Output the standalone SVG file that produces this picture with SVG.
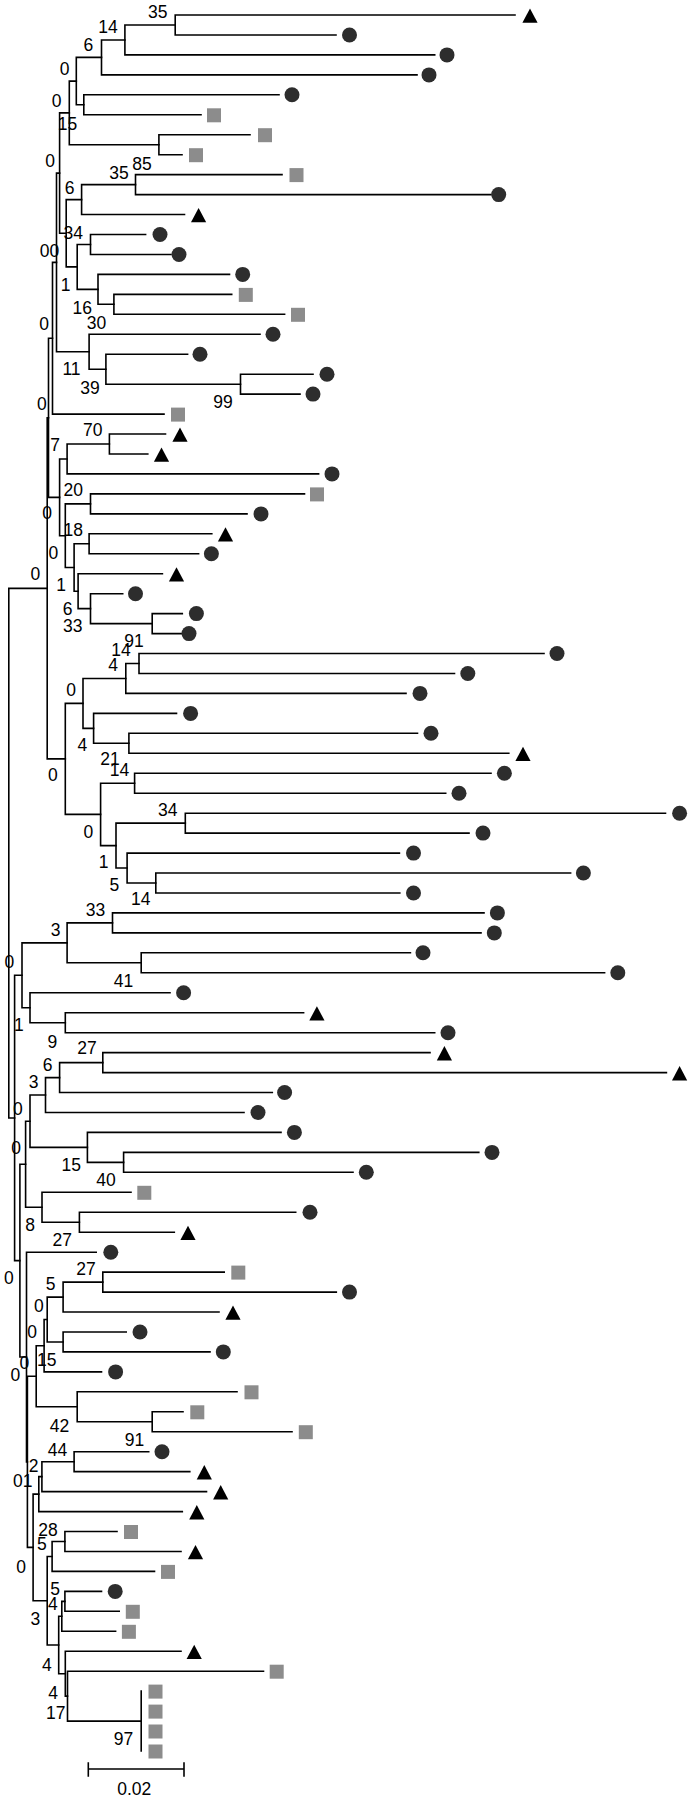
<svg xmlns="http://www.w3.org/2000/svg" width="692" height="1800" viewBox="0 0 692 1800">
<style>
.br{fill:none;stroke:#000;stroke-width:1.6;stroke-linecap:square}
.lbl{font-family:"Liberation Sans",Arial,sans-serif;font-size:17.5px;fill:#000;text-anchor:middle}
</style>
<defs>
<circle id="cir" cx="0" cy="0" r="7.5" fill="#2d2d2d"/>
<rect id="sq" x="-7" y="-6.5" width="14" height="14" fill="#8c8c8c"/>
<path id="tri" d="M0 -6.5 L7.6 7.8 L-7.6 7.8 Z" fill="#000"/>
</defs>
<rect x="0" y="0" width="692" height="1800" fill="#fff"/>
<g id="connectors" class="br">
<path d="M515 15 H175.2 V35 H336"/>
<path d="M175.2 25 H124.9 V54.9 H434.7"/>
<path d="M124.9 40 H101.5 V74.9 H417"/>
<path d="M279 94.8 H83.8 V114.8 H201"/>
<path d="M101.5 57.4 H76.3 V104.8 H83.8"/>
<path d="M250 134.7 H158.9 V154.7 H182"/>
<path d="M76.3 81.1 H69.3 V144.7 H158.9"/>
<path d="M282 174.6 H135.5 V194.6 H491"/>
<path d="M135.5 184.6 H81.6 V214.5 H184.5"/>
<path d="M145.6 234.5 H90.5 V254.5 H171"/>
<path d="M231.7 294.4 H113.9 V314.3 H284.6"/>
<path d="M229.5 274.4 H98 V304.3 H113.9"/>
<path d="M90.5 244.5 H77.2 V289.4 H98"/>
<path d="M81.6 199.6 H66.2 V266.9 H77.2"/>
<path d="M69.3 112.9 H59.6 V233.3 H66.2"/>
<path d="M313 374.2 H240.5 V394.1 H300"/>
<path d="M187.6 354.2 H105.9 V384.2 H240.5"/>
<path d="M260 334.3 H89.1 V369.2 H105.9"/>
<path d="M59.6 173.1 H56.5 V351.7 H89.1"/>
<path d="M56.5 262.4 H52.5 V414.1 H164"/>
<path d="M165.5 434 H109.4 V454 H147.8"/>
<path d="M109.4 444 H67.1 V473.9 H318.6"/>
<path d="M304.5 493.9 H90.5 V513.9 H247"/>
<path d="M211.8 533.8 H89.1 V553.8 H198.6"/>
<path d="M182.3 613.6 H152.2 V633.6 H182.3"/>
<path d="M122.7 593.7 H90.5 V623.6 H152.2"/>
<path d="M162.4 573.7 H78.1 V608.6 H90.5"/>
<path d="M89.1 543.8 H74.1 V591.2 H78.1"/>
<path d="M90.5 503.9 H65.3 V567.5 H74.1"/>
<path d="M67.1 459 H59.6 V535.7 H65.3"/>
<path d="M52.5 338.2 H48.5 V497.4 H59.6"/>
<path d="M544 653.5 H139 V673.5 H454.5"/>
<path d="M139 663.5 H125.8 V693.4 H406"/>
<path d="M417.5 733.3 H128.9 V753.3 H508.8"/>
<path d="M176.5 713.4 H93.6 V743.3 H128.9"/>
<path d="M125.8 678.5 H83 V728.4 H93.6"/>
<path d="M491 773.3 H134.6 V793.2 H445.7"/>
<path d="M665.5 813.2 H185.3 V833.1 H469"/>
<path d="M570.6 873 H155.8 V893 H399.8"/>
<path d="M399.4 853.1 H127.1 V883 H155.8"/>
<path d="M185.3 823.1 H116 V868 H127.1"/>
<path d="M134.6 783.2 H100.6 V845.6 H116"/>
<path d="M83 703.4 H65.3 V814.4 H100.6"/>
<path d="M48.5 417.8 H47.2 V758.9 H65.3"/>
<path d="M47.2 588.4 H8.8 V1118 H14.6"/>
<path d="M484 912.9 H112.5 V932.9 H481"/>
<path d="M410.4 952.8 H141.2 V972.8 H604.6"/>
<path d="M112.5 922.9 H67.1 V962.8 H141.2"/>
<path d="M303.6 1012.7 H65.3 V1032.7 H434.7"/>
<path d="M170 992.7 H30 V1022.7 H65.3"/>
<path d="M67.1 942.9 H22 V1007.7 H30"/>
<path d="M430 1052.6 H102.8 V1072.6 H666.4"/>
<path d="M102.8 1062.6 H59.6 V1092.5 H272.3"/>
<path d="M59.6 1077.6 H45.5 V1112.5 H244"/>
<path d="M478.8 1152.4 H123.6 V1172.3 H353"/>
<path d="M281 1132.4 H87.4 V1162.4 H123.6"/>
<path d="M45.5 1095 H30 V1147.4 H87.4"/>
<path d="M295.7 1212.2 H79.4 V1232.2 H174.3"/>
<path d="M131 1192.3 H42 V1222.2 H79.4"/>
<path d="M30 1121.2 H25.6 V1207.3 H42"/>
<path d="M224.2 1272.1 H102.8 V1292.1 H336.3"/>
<path d="M102.8 1282.1 H63.1 V1312 H219"/>
<path d="M126.2 1332 H63.1 V1351.9 H210"/>
<path d="M63.1 1297.1 H47.2 V1342 H63.1"/>
<path d="M47.2 1319.5 H44.1 V1371.9 H101.5"/>
<path d="M183 1411.8 H152.2 V1431.7 H292"/>
<path d="M237 1391.8 H77.2 V1421.8 H152.2"/>
<path d="M44.1 1345.7 H36.2 V1406.8 H77.2"/>
<path d="M148.7 1451.7 H74.1 V1471.6 H189.8"/>
<path d="M74.1 1461.7 H41.9 V1491.6 H206.5"/>
<path d="M41.9 1476.6 H38.8 V1511.6 H182.3"/>
<path d="M117 1531.5 H64.9 V1551.5 H181"/>
<path d="M64.9 1541.5 H52.1 V1571.4 H154.5"/>
<path d="M101.5 1591.4 H64.9 V1611.3 H119.2"/>
<path d="M64.9 1601.4 H61.8 V1631.3 H115.6"/>
<path d="M141.2 1691.1 V1751"/>
<path d="M263.5 1671.2 H67.5 V1721.1 H141.2"/>
<path d="M181 1651.2 H65.3 V1696.1 H67.5"/>
<path d="M61.8 1616.3 H58.7 V1673.7 H65.3"/>
<path d="M52.1 1556.5 H47.2 V1645 H58.7"/>
<path d="M38.8 1494.1 H33.1 V1600.8 H47.2"/>
<path d="M36.2 1376.3 H27.4 V1547.4 H33.1"/>
<path d="M96.2 1252.2 H26.5 V1461.9 H27.4"/>
<path d="M25.6 1164.2 H19.9 V1357 H26.5"/>
<path d="M22 975.3 H14.6 V1260.6 H19.9"/>
</g>
<g id="tips">
<g id="t1"><use href="#tri" x="530" y="15"/></g>
<g id="t2"><use href="#cir" x="349.5" y="35"/></g>
<g id="t3"><use href="#cir" x="447" y="54.9"/></g>
<g id="t4"><use href="#cir" x="429" y="74.9"/></g>
<g id="t5"><use href="#cir" x="292" y="94.8"/></g>
<g id="t6"><use href="#sq" x="214" y="114.8"/></g>
<g id="t7"><use href="#sq" x="265" y="134.7"/></g>
<g id="t8"><use href="#sq" x="196" y="154.7"/></g>
<g id="t9"><use href="#sq" x="296.5" y="174.6"/></g>
<g id="t10"><use href="#cir" x="498.7" y="194.6"/></g>
<g id="t11"><use href="#tri" x="198.6" y="214.5"/></g>
<g id="t12"><use href="#cir" x="160" y="234.5"/></g>
<g id="t13"><use href="#cir" x="179" y="254.5"/></g>
<g id="t14"><use href="#cir" x="242.7" y="274.4"/></g>
<g id="t15"><use href="#sq" x="245.8" y="294.4"/></g>
<g id="t16"><use href="#sq" x="298" y="314.3"/></g>
<g id="t17"><use href="#cir" x="273" y="334.3"/></g>
<g id="t18"><use href="#cir" x="200" y="354.2"/></g>
<g id="t19"><use href="#cir" x="327" y="374.2"/></g>
<g id="t20"><use href="#cir" x="313" y="394.1"/></g>
<g id="t21"><use href="#sq" x="178" y="414.1"/></g>
<g id="t22"><use href="#tri" x="180" y="434"/></g>
<g id="t23"><use href="#tri" x="161.5" y="454"/></g>
<g id="t24"><use href="#cir" x="332" y="473.9"/></g>
<g id="t25"><use href="#sq" x="317" y="493.9"/></g>
<g id="t26"><use href="#cir" x="261" y="513.9"/></g>
<g id="t27"><use href="#tri" x="225.5" y="533.8"/></g>
<g id="t28"><use href="#cir" x="211.4" y="553.8"/></g>
<g id="t29"><use href="#tri" x="176.5" y="573.7"/></g>
<g id="t30"><use href="#cir" x="135.5" y="593.7"/></g>
<g id="t31"><use href="#cir" x="196.4" y="613.6"/></g>
<g id="t32"><use href="#cir" x="189" y="633.6"/></g>
<g id="t33"><use href="#cir" x="557" y="653.5"/></g>
<g id="t34"><use href="#cir" x="467.8" y="673.5"/></g>
<g id="t35"><use href="#cir" x="420" y="693.4"/></g>
<g id="t36"><use href="#cir" x="190.6" y="713.4"/></g>
<g id="t37"><use href="#cir" x="431" y="733.3"/></g>
<g id="t38"><use href="#tri" x="523" y="753.3"/></g>
<g id="t39"><use href="#cir" x="504.4" y="773.3"/></g>
<g id="t40"><use href="#cir" x="459" y="793.2"/></g>
<g id="t41"><use href="#cir" x="679.6" y="813.2"/></g>
<g id="t42"><use href="#cir" x="483" y="833.1"/></g>
<g id="t43"><use href="#cir" x="413.5" y="853.1"/></g>
<g id="t44"><use href="#cir" x="583.4" y="873"/></g>
<g id="t45"><use href="#cir" x="413.5" y="893"/></g>
<g id="t46"><use href="#cir" x="497.4" y="912.9"/></g>
<g id="t47"><use href="#cir" x="494.3" y="932.9"/></g>
<g id="t48"><use href="#cir" x="423" y="952.8"/></g>
<g id="t49"><use href="#cir" x="617.8" y="972.8"/></g>
<g id="t50"><use href="#cir" x="183.6" y="992.7"/></g>
<g id="t51"><use href="#tri" x="316.9" y="1012.7"/></g>
<g id="t52"><use href="#cir" x="448" y="1032.7"/></g>
<g id="t53"><use href="#tri" x="444.4" y="1052.6"/></g>
<g id="t54"><use href="#tri" x="679.6" y="1072.6"/></g>
<g id="t55"><use href="#cir" x="284.6" y="1092.5"/></g>
<g id="t56"><use href="#cir" x="258" y="1112.5"/></g>
<g id="t57"><use href="#cir" x="294.4" y="1132.4"/></g>
<g id="t58"><use href="#cir" x="492" y="1152.4"/></g>
<g id="t59"><use href="#cir" x="366.3" y="1172.3"/></g>
<g id="t60"><use href="#sq" x="144.3" y="1192.3"/></g>
<g id="t61"><use href="#cir" x="310" y="1212.2"/></g>
<g id="t62"><use href="#tri" x="188" y="1232.2"/></g>
<g id="t63"><use href="#cir" x="110.8" y="1252.2"/></g>
<g id="t64"><use href="#sq" x="238.3" y="1272.1"/></g>
<g id="t65"><use href="#cir" x="349.5" y="1292.1"/></g>
<g id="t66"><use href="#tri" x="233" y="1312"/></g>
<g id="t67"><use href="#cir" x="140" y="1332"/></g>
<g id="t68"><use href="#cir" x="223.3" y="1351.9"/></g>
<g id="t69"><use href="#cir" x="115.6" y="1371.9"/></g>
<g id="t70"><use href="#sq" x="251.5" y="1391.8"/></g>
<g id="t71"><use href="#sq" x="197.3" y="1411.8"/></g>
<g id="t72"><use href="#sq" x="305.8" y="1431.7"/></g>
<g id="t73"><use href="#cir" x="162" y="1451.7"/></g>
<g id="t74"><use href="#tri" x="204.3" y="1471.6"/></g>
<g id="t75"><use href="#tri" x="220.7" y="1491.6"/></g>
<g id="t76"><use href="#tri" x="196.8" y="1511.6"/></g>
<g id="t77"><use href="#sq" x="131" y="1531.5"/></g>
<g id="t78"><use href="#tri" x="195.5" y="1551.5"/></g>
<g id="t79"><use href="#sq" x="168" y="1571.4"/></g>
<g id="t80"><use href="#cir" x="115.2" y="1591.4"/></g>
<g id="t81"><use href="#sq" x="132.8" y="1611.3"/></g>
<g id="t82"><use href="#sq" x="128.9" y="1631.3"/></g>
<g id="t83"><use href="#tri" x="194.2" y="1651.2"/></g>
<g id="t84"><use href="#sq" x="276.7" y="1671.2"/></g>
<g id="t85"><use href="#sq" x="155.5" y="1691.1"/></g>
<g id="t86"><use href="#sq" x="155.5" y="1711.1"/></g>
<g id="t87"><use href="#sq" x="155.5" y="1731"/></g>
<g id="t88"><use href="#sq" x="155.5" y="1751"/></g>
</g>
<g id="labels" class="lbl">
<text x="157.8" y="18">35</text>
<text x="108.1" y="33">14</text>
<text x="88.3" y="51">6</text>
<text x="64.5" y="75">0</text>
<text x="56.7" y="106.8">0</text>
<text x="67.6" y="130.3">15</text>
<text x="50" y="167.3">0</text>
<text x="142.1" y="170.3">85</text>
<text x="119" y="178.8">35</text>
<text x="69.5" y="193.8">6</text>
<text x="73.3" y="238.8">34</text>
<text x="49.4" y="257.3">00</text>
<text x="65.7" y="291.3">1</text>
<text x="82.2" y="313.8">16</text>
<text x="96.4" y="328.8">30</text>
<text x="44.1" y="330.3">0</text>
<text x="71.5" y="375.3">11</text>
<text x="89.9" y="393.8">39</text>
<text x="222.9" y="408">99</text>
<text x="41.9" y="410.3">0</text>
<text x="92.7" y="436.3">70</text>
<text x="55.2" y="451.3">7</text>
<text x="73.3" y="496.3">20</text>
<text x="47" y="519.3">0</text>
<text x="73.3" y="536.3">18</text>
<text x="53.4" y="558.8">0</text>
<text x="35.3" y="580.3">0</text>
<text x="61.1" y="591.3">1</text>
<text x="67.5" y="614.8">6</text>
<text x="72.8" y="632.3">33</text>
<text x="134" y="647.1">91</text>
<text x="121" y="656.1">14</text>
<text x="113" y="671.3">4</text>
<text x="71" y="696.3">0</text>
<text x="82.3" y="751.3">4</text>
<text x="110" y="765.3">21</text>
<text x="119.5" y="776.3">14</text>
<text x="52.9" y="781.3">0</text>
<text x="167.7" y="816.1">34</text>
<text x="88.3" y="838.1">0</text>
<text x="103.7" y="868.1">1</text>
<text x="114.3" y="891.3">5</text>
<text x="140.8" y="905.3">14</text>
<text x="95.5" y="915.5">33</text>
<text x="55.6" y="936.1">3</text>
<text x="9.3" y="968.1">0</text>
<text x="123.6" y="987.1">41</text>
<text x="18.8" y="1031.3">1</text>
<text x="52.3" y="1048.1">9</text>
<text x="87" y="1053.8">27</text>
<text x="47.5" y="1071.3">6</text>
<text x="33.5" y="1088.3">3</text>
<text x="17.9" y="1115.3">0</text>
<text x="16" y="1154.3">0</text>
<text x="71.3" y="1171.3">15</text>
<text x="105.9" y="1186.3">40</text>
<text x="30" y="1231.3">8</text>
<text x="62.2" y="1246.3">27</text>
<text x="8.8" y="1284.3">0</text>
<text x="86" y="1274.8">27</text>
<text x="50.7" y="1290.3">5</text>
<text x="38.8" y="1312.3">0</text>
<text x="32.2" y="1338.3">0</text>
<text x="24.3" y="1369.3">0</text>
<text x="46.8" y="1366.3">15</text>
<text x="15.4" y="1381.3">0</text>
<text x="59.6" y="1432.3">42</text>
<text x="57.4" y="1456.1">44</text>
<text x="134.6" y="1446.3">91</text>
<text x="33.5" y="1472.3">2</text>
<text x="22.7" y="1487.1">01</text>
<text x="47.9" y="1536.1">28</text>
<text x="41.9" y="1550.3">5</text>
<text x="21.2" y="1572.8">0</text>
<text x="55.2" y="1594.8">5</text>
<text x="52.9" y="1610.3">4</text>
<text x="35.3" y="1624.8">3</text>
<text x="46.8" y="1671.3">4</text>
<text x="53" y="1699.3">4</text>
<text x="55.8" y="1719.3">17</text>
<text x="123.6" y="1745.3">97</text>
</g>
<g id="scale-bar">
<path class="br" d="M88.3 1769 H184 M88.3 1763 V1776 M184 1763 V1776"/>
<text class="lbl" x="134.2" y="1794.6">0.02</text>
</g>
</svg>
